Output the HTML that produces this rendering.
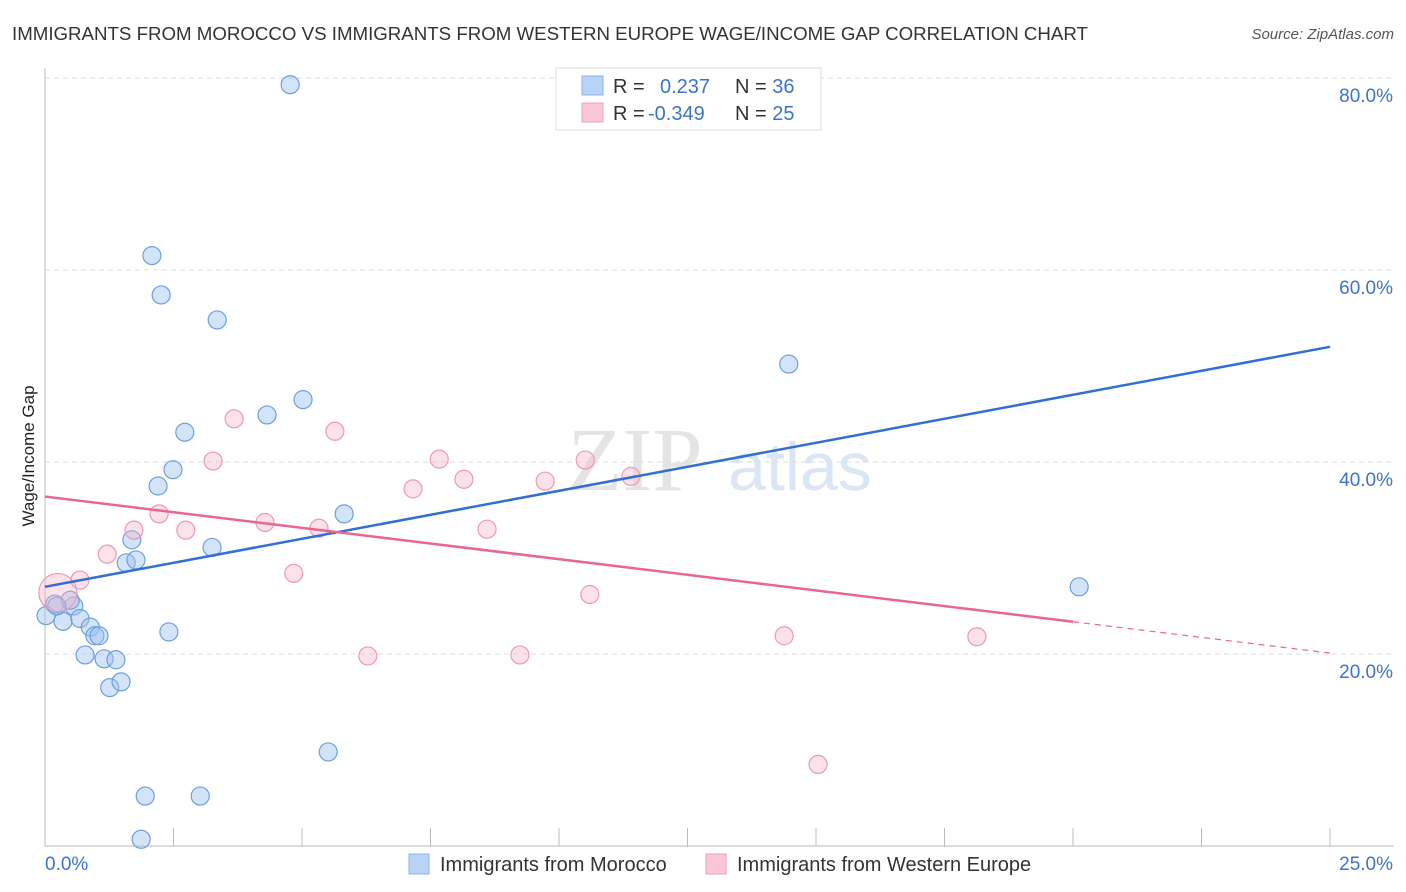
<!DOCTYPE html>
<html><head><meta charset="utf-8"><style>
body{margin:0;background:#fff;font-family:"Liberation Sans",sans-serif;}
svg{display:block}
</style></head><body>
<svg width="1406" height="892" id="c">
<text x="12" y="40" font-size="18.7" fill="#333">IMMIGRANTS FROM MOROCCO VS IMMIGRANTS FROM WESTERN EUROPE WAGE/INCOME GAP CORRELATION CHART</text>
<text x="1394" y="39" font-size="15" fill="#555" text-anchor="end" font-style="italic">Source: ZipAtlas.com</text>
<text x="635" y="490" font-size="90" fill="#e4e4e4" font-family="Liberation Serif" text-anchor="middle">ZIP</text>
<text x="800" y="490" font-size="68" fill="#dbe6f5" text-anchor="middle">atlas</text>
<text x="34" y="456" font-size="17" fill="#222" text-anchor="middle" transform="rotate(-90 34 456)">Wage/Income Gap</text>
<g id="grid"></g><g id="marks"></g>
<g>
<rect x="556" y="68" width="265" height="62" fill="#fff" stroke="#ddd"/>
<rect x="582" y="76" width="21" height="19" fill="#b9d3f5" stroke="#8ab3ea"/>
<rect x="582" y="103" width="21" height="19" fill="#f8c6d5" stroke="#eea3bb"/>
<text x="613" y="93" font-size="20" fill="#333">R = <tspan x="660" fill="#3a74d0">0.237</tspan><tspan x="735" fill="#333">N = </tspan><tspan fill="#3a74d0">36</tspan></text>
<text x="613" y="120" font-size="20" fill="#333">R = <tspan x="648" fill="#3a74d0">-0.349</tspan><tspan x="735" fill="#333">N = </tspan><tspan fill="#3a74d0">25</tspan></text>
</g>
<g>
<rect x="409" y="854" width="20" height="20" fill="#b9d3f5" stroke="#8ab3ea"/>
<text x="440" y="871" font-size="20" fill="#333">Immigrants from Morocco</text>
<rect x="706" y="854" width="20" height="20" fill="#f8c6d5" stroke="#eea3bb"/>
<text x="737" y="871" font-size="20" fill="#333">Immigrants from Western Europe</text>
</g>
</svg>
<script>
const yTicks=[20,40,60,80];
const yTickLabels=["20.0%","40.0%","60.0%","80.0%"];
const xLabels=["0.0%","25.0%"];
const blueX=[4.77,2.08,2.26,3.35,14.47,5.02,4.32,2.72,2.49,2.20,5.82,1.69,3.25,1.58,1.77,20.12,0.02,0.19,0.35,0.56,0.49,0.68,0.88,0.97,1.05,0.78,1.15,1.38,2.41,1.26,1.48,5.51,1.95,3.02,1.87,0.23];
const blueY=[79.3,61.5,57.4,54.8,50.2,46.5,44.9,43.1,39.2,37.5,34.6,31.9,31.1,29.5,29.8,27.0,24.0,25.2,23.4,25.0,25.6,23.7,22.8,21.9,21.9,19.9,19.5,19.4,22.3,16.5,17.1,9.8,5.2,5.2,0.7,25.0];
const pinkX=[0.25,0.68,1.21,1.73,2.22,2.74,3.27,3.68,4.28,4.84,5.33,5.64,6.28,7.16,7.67,8.15,8.60,9.24,9.73,10.51,10.60,11.40,14.38,15.04,18.13];
const pinkY=[26.4,27.7,30.4,32.9,34.6,32.9,40.1,44.5,33.7,28.4,33.1,43.2,19.8,37.2,40.3,38.2,33.0,19.9,38.0,40.2,26.2,38.5,21.9,8.5,21.8];
const pinkBig=[1,0,0,0,0,0,0,0,0,0,0,0,0,0,0,0,0,0,0,0,0,0,0,0,0];
const blueTrend=[27.0,52.0];
const pinkTrend=[36.4,20.1];
const pinkSolidEnd=20;
const X=v=>45+v/25*1285, Y=v=>846-v/20*192;
const NS="http://www.w3.org/2000/svg";
const g=document.getElementById('grid'), m=document.getElementById('marks');
function mk(p,t,a){const e=document.createElementNS(NS,t);for(const k in a)e.setAttribute(k,a[k]);p.appendChild(e);return e;}
let e=mk(g,'line',{x1:45,y1:68,x2:45,y2:846,stroke:'#bbb'});

e=mk(g,'line',{x1:45,y1:846,x2:1394,y2:846,stroke:'#bbb'});

yTicks.forEach((t,i)=>{
 let l=mk(g,'line',{x1:45,y1:Y(t),x2:1394,y2:Y(t),stroke:'#ddd','stroke-dasharray':'5,4'});
 
 let tx=mk(g,'text',{x:1393,y:Y(t)+24,'font-size':19,fill:'#3a74d0','text-anchor':'end'});tx.textContent=yTickLabels[i];
 
});
for(let i=1;i<=10;i++){let l=mk(g,'line',{x1:X(i*2.5),y1:828,x2:X(i*2.5),y2:846,stroke:'#bbb'});
 }
[[45,'start'],[1393,'end']].forEach((p,i)=>{let tx=mk(g,'text',{x:p[0],y:870,'font-size':19,fill:'#3a74d0','text-anchor':p[1]});tx.textContent=xLabels[i];
 });
blueX.forEach((x,i)=>{let c=mk(m,'circle',{cx:X(x),cy:Y(blueY[i]),r:9,fill:'rgba(160,196,240,0.45)',stroke:'#6b9fe0','stroke-width':1.2});
 });
pinkX.forEach((x,i)=>{let c=mk(m,'circle',{cx:X(x),cy:Y(pinkY[i]),r:pinkBig[i]?19:9,fill:'rgba(246,180,200,0.4)',stroke:'#eb9ab4','stroke-width':1.2});
 });
e=mk(m,'line',{x1:X(0),y1:Y(blueTrend[0]),x2:X(25),y2:Y(blueTrend[1]),stroke:'#2f6fd6','stroke-width':2.5});

const py=x=>pinkTrend[0]+(pinkTrend[1]-pinkTrend[0])*x/25;
e=mk(m,'line',{x1:X(0),y1:Y(py(0)),x2:X(pinkSolidEnd),y2:Y(py(pinkSolidEnd)),stroke:'#e8668f','stroke-width':2.5});

e=mk(m,'line',{x1:X(pinkSolidEnd),y1:Y(py(pinkSolidEnd)),x2:X(25),y2:Y(py(25)),stroke:'#e8668f','stroke-width':1.2,'stroke-dasharray':'6,5'});

</script>
</body></html>
